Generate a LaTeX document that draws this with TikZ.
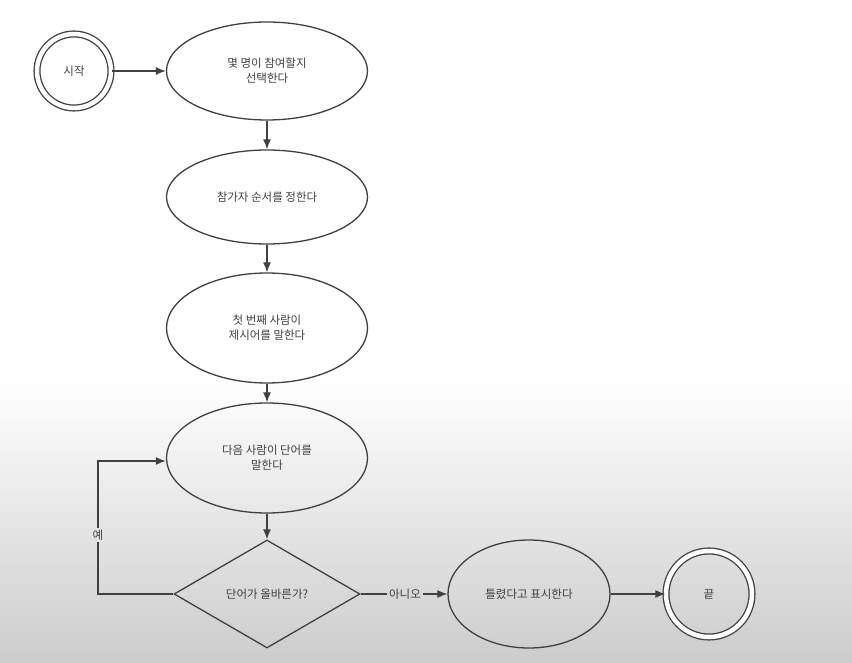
\documentclass[tikz,border=0pt]{standalone}
\usepackage{fontspec}
\setmainfont{Noto Sans CJK KR}
\usetikzlibrary{arrows,arrows.meta,shapes,shapes.geometric,positioning}

\begin{document}
\begin{tikzpicture}[x=1pt,y=-1pt,
    line width=1.3pt,
    every node/.style={font=\fontsize{11.5}{15}\selectfont,text=black!75,align=center},
    stepell/.style={ellipse,draw=black!75,minimum width=201pt,minimum height=98pt,inner sep=0pt},
    endcirc/.style={circle,draw=black!75,double,double distance=4.5pt,minimum size=74pt,inner sep=0pt},
    ask/.style={diamond,draw=black!75,minimum width=186pt,minimum height=108pt,inner sep=0pt,aspect=1.7},
    lbl/.style={inner sep=1pt},
    conn/.style={draw=black!75,-{Latex[length=10pt,width=8pt]}}]

    % the page
    \useasboundingbox (0,0) rectangle (852,663);
    \fill[white] (0,0) rectangle (852,380);
    \shade[top color=white,bottom color=black!20] (0,380) rectangle (852,663);

    % the steps
    \node[endcirc] (start) at (74,71) {시작};
    \node[stepell] (count) at (267,71) {몇 명이 참여할지\\선택한다};
    \node[stepell,minimum height=94pt] (order) at (267,197) {참가자 순서를 정한다};
    \node[stepell,minimum height=110pt] (first) at (267,328) {첫 번째 사람이\\제시어를 말한다};
    \node[stepell,minimum height=110pt] (next) at (267,458) {다음 사람이 단어를\\말한다};
    \node[ask] (check) at (267,594) {단어가 올바른가?};
    \node[stepell,minimum width=162pt,minimum height=108pt] (wrong) at (529,594) {틀렸다고 표시한다};
    \node[endcirc,minimum size=86pt] (end) at (709,594) {끝};

    % the labels
    \node[lbl] (no) at (405,594) {아니오};
    \node[lbl] (yes) at (98,535) {예};
    \coordinate (loopbot) at (98,594);
    \coordinate (looptop) at (98,461);

    % the connectors
    \draw[conn] (start) -- (count);
    \draw[conn] (count) -- (order);
    \draw[conn] (order) -- (first);
    \draw[conn] (first) -- (next);
    \draw[conn] (next) -- (check);
    \draw[draw=black!75] (check.east) -- (no.west);
    \draw[conn] (no.east) -- (wrong.west);
    \draw[conn] (wrong) -- (end);
    \draw[draw=black!75] (check.west) -- (loopbot) -- (yes.south);
    \draw[conn] (yes.north) -- (looptop) -- (next.west |- looptop);

  \end{tikzpicture}
\end{document}
